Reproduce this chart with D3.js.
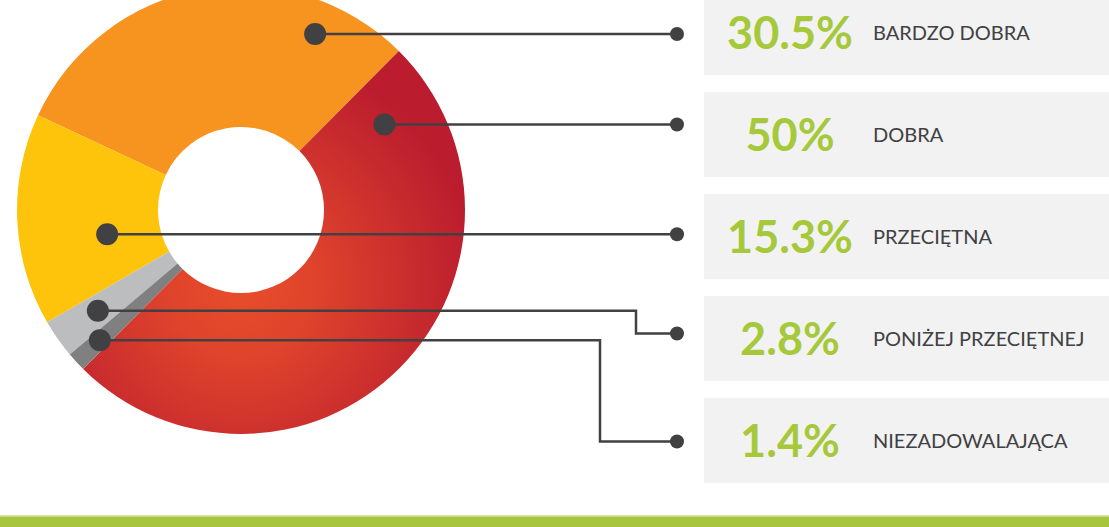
<!DOCTYPE html>
<html>
<head>
<meta charset="utf-8">
<script src="https://cdn.jsdelivr.net/npm/d3@7"></script>
<style>
  html, body { margin: 0; padding: 0; background: #fff; }
  svg { display: block; }
</style>
</head>
<body>
<div id="chart"></div>
<script>
// data
const categories = ['BARDZO DOBRA', 'DOBRA', 'PRZECIĘTNA', 'PONIŻEJ PRZECIĘTNEJ', 'NIEZADOWALAJĄCA'];
const values = [30.5, 50, 15.3, 2.8, 1.4];
const percentLabels = ['30.5%', '50%', '15.3%', '2.8%', '1.4%'];
// order of slices going clockwise round the ring
const arcOrder = ['BARDZO DOBRA', 'DOBRA', 'NIEZADOWALAJĄCA', 'PONIŻEJ PRZECIĘTNEJ', 'PRZECIĘTNA'];

const colors = {
  'BARDZO DOBRA': '#f6941f',
  'DOBRA': 'url(#redGrad)',
  'PRZECIĘTNA': '#fec30b',
  'PONIŻEJ PRZECIĘTNEJ': '#bcbdbf',
  'NIEZADOWALAJĄCA': '#808080'
};

// where each callout dot sits in its slice (fraction along the arc, radius)
const dotPos = {
  'BARDZO DOBRA': [0.8, 191],
  'DOBRA': [0.08, 167],
  'PRZECIĘTNA': [0.36, 136],
  'PONIŻEJ PRZECIĘTNEJ': [0.5, 175],
  'NIEZADOWALAJĄCA': [0.5, 192]
};
// x where the leader line turns down (null = straight line), and end nudge
const elbowX = [null, null, null, 636, 600];
const endNudge = [0, 0, 0, -5, 1];

const width = 1109, height = 527;
const cx = 241, cy = 210;
const outerR = 224, innerR = 83;

const svg = d3.select('#chart')
  .append('svg')
  .attr('width', width)
  .attr('height', height);

// gradient for the big red slice (coords are relative to the donut centre)
const grad = svg.append('defs').append('radialGradient')
  .attr('id', 'redGrad')
  .attr('gradientUnits', 'userSpaceOnUse')
  .attr('cx', 0).attr('cy', 75)
  .attr('r', 235);
grad.append('stop').attr('offset', '0').attr('stop-color', '#e84d2a');
grad.append('stop').attr('offset', '0.3').attr('stop-color', '#df442c');
grad.append('stop').attr('offset', '1').attr('stop-color', '#bb1d2e');

// boxes on the right
const y = d3.scaleBand()
  .domain(categories)
  .range([-10, 483])
  .paddingInner(0.165)
  .paddingOuter(0);

const rows = svg.append('g')
  .selectAll('g')
  .data(categories)
  .enter()
  .append('g');

rows.append('rect')
  .attr('x', 704)
  .attr('y', (d) => y(d))
  .attr('width', width - 704)
  .attr('height', y.bandwidth())
  .attr('fill', '#f2f2f2');

rows.append('text')
  .attr('x', 790)
  .attr('y', (d) => y(d) + y.bandwidth() / 2)
  .attr('dy', '0.36em')
  .attr('text-anchor', 'middle')
  .attr('font-family', 'Lato, sans-serif')
  .attr('font-weight', 'bold')
  .attr('font-size', 45)
  .attr('fill', '#a6c83b')
  .text((d, i) => percentLabels[i]);

rows.append('text')
  .attr('x', 873)
  .attr('y', (d) => y(d) + y.bandwidth() / 2)
  .attr('dy', '0.36em')
  .attr('font-family', 'Lato, sans-serif')
  .attr('font-size', 20)
  .attr('fill', '#414042')
  .text((d) => d);

// the donut
const pie = d3.pie()
  .value((d) => d.value)
  .sort((a, b) => arcOrder.indexOf(a.key) - arcOrder.indexOf(b.key))
  .startAngle(-65 * Math.PI / 180)
  .endAngle(-65 * Math.PI / 180 + 2 * Math.PI);

const arcs = pie(categories.map((key, i) => ({ key, value: values[i] })));

const arc = d3.arc()
  .innerRadius(innerR)
  .outerRadius(outerR);

const donut = svg.append('g')
  .attr('transform', `translate(${cx},${cy})`);

donut.selectAll('path')
  .data(arcs)
  .enter()
  .append('path')
  .attr('d', arc)
  .attr('fill', (d) => colors[d.data.key]);

// leader lines
const leaders = categories.map((key, i) => {
  const a = arcs.find((d) => d.data.key === key);
  const [t, r] = dotPos[key];
  const p = d3.pointRadial(a.startAngle + t * (a.endAngle - a.startAngle), r);
  const x0 = cx + p[0], y0 = cy + p[1];
  const yEnd = elbowX[i] === null ? y0 : y(key) + y.bandwidth() / 2 + endNudge[i];
  return { key, x0, y0, yEnd, ex: elbowX[i] };
});

const line = d3.line();
const callouts = svg.append('g');

callouts.selectAll('path')
  .data(leaders)
  .enter()
  .append('path')
  .attr('d', (d) => (d.ex === null
    ? line([[d.x0, d.y0], [677, d.yEnd]])
    : line([[d.x0, d.y0], [d.ex, d.y0], [d.ex, d.yEnd], [677, d.yEnd]])))
  .attr('fill', 'none')
  .attr('stroke', '#414042')
  .attr('stroke-width', 2.5);

callouts.selectAll('circle.start')
  .data(leaders)
  .enter()
  .append('circle')
  .attr('class', 'start')
  .attr('cx', (d) => d.x0)
  .attr('cy', (d) => d.y0)
  .attr('r', 11)
  .attr('fill', '#414042');

callouts.selectAll('circle.end')
  .data(leaders)
  .enter()
  .append('circle')
  .attr('class', 'end')
  .attr('cx', 677)
  .attr('cy', (d) => d.yEnd)
  .attr('r', 7)
  .attr('fill', '#414042');

// green band at the bottom
svg.append('rect')
  .attr('x', 0).attr('y', 515)
  .attr('width', width).attr('height', 1.5)
  .attr('fill', '#d6e4a6');
svg.append('rect')
  .attr('x', 0).attr('y', 516.5)
  .attr('width', width).attr('height', height - 516.5)
  .attr('fill', '#a7c63c');
</script>
</body>
</html>
